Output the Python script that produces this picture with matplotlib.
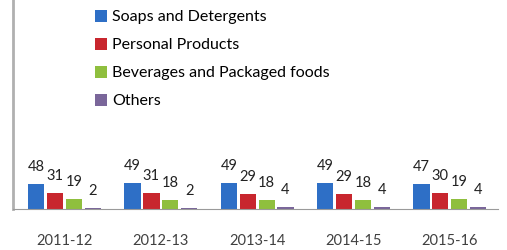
import numpy as np
import matplotlib.pyplot as plt

# data
years = ['2011-12', '2012-13', '2013-14', '2014-15', '2015-16']
soaps = [48, 49, 49, 49, 47]
personal = [31, 31, 29, 29, 30]
beverages = [19, 18, 18, 18, 19]
others = [2, 2, 4, 4, 4]

series = [
    ('Soaps and Detergents', soaps, '#2e6fc6'),
    ('Personal Products', personal, '#c8262e'),
    ('Beverages and Packaged foods', beverages, '#8fbf3e'),
    ('Others', others, '#7a669a'),
]

plt.rcParams['font.family'] = ['Lato', 'DejaVu Sans']

fig = plt.figure(figsize=(5.07, 2.5), dpi=100)
ax = fig.add_axes([13 / 507, 41 / 250, 485 / 507, 209 / 250])

x = np.arange(len(years))
step = 0.196
width = 0.168
for i, (name, vals, col) in enumerate(series):
    pos = x + (i - 1.5) * step
    bars = ax.bar(pos, vals, width, color=col, label=name, zorder=2)
    for b, v in zip(bars, vals):
        ax.annotate(str(v), (b.get_x() + b.get_width() / 2, b.get_height()),
                    xytext=(0, 17), textcoords='offset pixels',
                    ha='center', va='center', fontsize=10.5, color='#222222')

ax.set_xlim(-0.535, 4.5)
ax.set_ylim(0, 400)
ax.set_xticks(x)
ax.set_xticklabels(years, fontsize=10.5, color='#404040')
ax.tick_params(axis='x', length=0, pad=18)
ax.set_yticks([])
for s in ['top', 'right']:
    ax.spines[s].set_visible(False)
ax.spines['bottom'].set_color('#9a9a9a')
ax.spines['left'].set_color('#b0b0b0')
ax.spines['left'].set_linewidth(2)

fig.legend(loc='upper left', bbox_to_anchor=(95 / 507, 1 - 10 / 250),
           frameon=False, fontsize=11.5, handlelength=0.75, handleheight=0.75,
           handletextpad=0.3, labelspacing=0.85, borderpad=0, borderaxespad=0)

fig.savefig('out.png', dpi=100)
